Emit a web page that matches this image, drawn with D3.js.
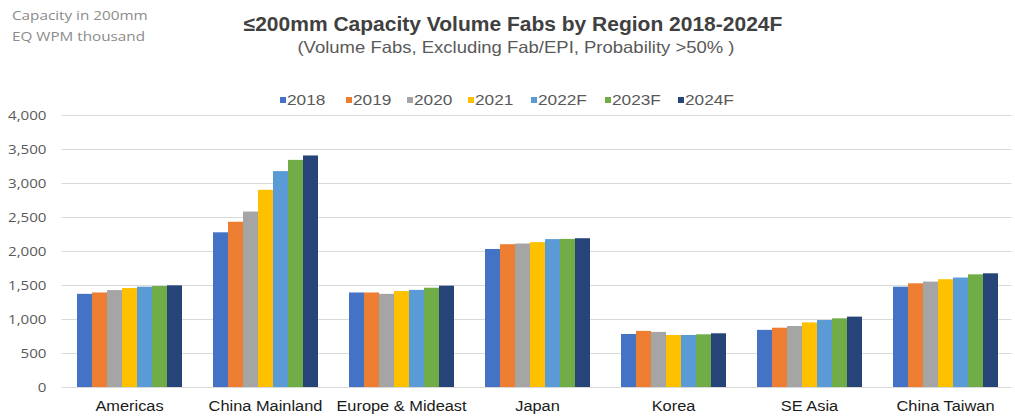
<!DOCTYPE html>
<html>
<head>
<meta charset="utf-8">
<script src="https://cdn.jsdelivr.net/npm/d3@7"></script>
<style>
  html, body { margin: 0; padding: 0; background: #fff; }
  svg { display: block; }
</style>
</head>
<body>
<svg id="chart" width="1015" height="416"></svg>
<script>
// Regions along the x axis
const regions = ["Americas", "China Mainland", "Europe & Mideast", "Japan", "Korea", "SE Asia", "China Taiwan"];
// Years (series)
const years = ["2018", "2019", "2020", "2021", "2022F", "2023F", "2024F"];
// Capacity per year, one value per region (200mm EQ WPM, thousand)
const v2018  = [1370, 2275, 1390, 2030,  780,  840, 1475];
const v2019  = [1390, 2430, 1390, 2100,  825,  872, 1525];
const v2020  = [1425, 2580, 1370, 2110,  810,  897, 1550];
const v2021  = [1455, 2900, 1412, 2130,  765,  950, 1585];
const v2022F = [1475, 3175, 1428, 2175,  765,  985, 1610];
const v2023F = [1485, 3340, 1460, 2178,  775, 1010, 1657];
const v2024F = [1495, 3405, 1490, 2188,  790, 1035, 1672];
const seriesValues = [v2018, v2019, v2020, v2021, v2022F, v2023F, v2024F];
// Y axis ticks
const yTicks = [0, 500, 1000, 1500, 2000, 2500, 3000, 3500, 4000];

const colors = ["#4472C4", "#ED7D31", "#A5A5A5", "#FFC000", "#5B9BD5", "#70AD47", "#264478"];

const svg = d3.select("#chart");

// Widen text horizontally by a factor, keeping its anchor
function widen(sel, k) {
  sel.each(function () {
    const w = this.getComputedTextLength();
    d3.select(this).attr("textLength", w * k).attr("lengthAdjust", "spacingAndGlyphs");
  });
}

const plot = { left: 61.5, right: 1013.5, top: 115, bottom: 387 };

const x0 = d3.scaleBand().domain(regions).range([plot.left, plot.right]).paddingInner(0.228).paddingOuter(0.114);
const x1 = d3.scaleBand().domain(years).range([0, x0.bandwidth()]).padding(0);
const y = d3.scaleLinear().domain([0, 4000]).range([plot.bottom, plot.top]);
const color = d3.scaleOrdinal().domain(years).range(colors);

// Gridlines and y tick labels
const yAxis = d3.axisLeft(y).tickValues(yTicks).tickFormat(d3.format(",")).tickSize(-(plot.right - plot.left - 2)).tickPadding(15);
const gy = svg.append("g").attr("transform", `translate(${plot.left},0)`).call(yAxis);
gy.select(".domain").remove();
gy.selectAll(".tick line").attr("stroke", "#d9d9d9").attr("stroke-width", 1);
gy.selectAll(".tick text")
  .attr("fill", "#595959")
  .style("font-family", "'Open Sans', sans-serif")
  .style("font-size", "13.5px")
  .call(widen, 1.12);

// Bars
const groups = svg.append("g").selectAll("g")
  .data(regions)
  .join("g")
  .attr("transform", d => `translate(${x0(d)},0)`);

groups.selectAll("rect")
  .data((r, ri) => years.map((yr, si) => ({ yr, v: seriesValues[si][ri] })))
  .join("rect")
  .attr("x", d => x1(d.yr))
  .attr("width", x1.bandwidth())
  .attr("y", d => y(d.v))
  .attr("height", d => y(0) - y(d.v))
  .attr("fill", d => color(d.yr));

// Category axis labels
const xAxis = d3.axisBottom(x0).tickSize(0).tickPadding(14);
const gx = svg.append("g").attr("transform", `translate(0,${plot.bottom})`).call(xAxis);
gx.select(".domain").remove();
gx.selectAll(".tick text")
  .attr("fill", "#1a1a1a")
  .style("font-family", "'Liberation Sans', Arial, sans-serif")
  .style("font-size", "14px")
  .call(widen, 1.17);

// Legend
const legendX = [280, 346, 407, 468, 531, 605, 678];
const legend = svg.append("g").selectAll("g")
  .data(years)
  .join("g")
  .attr("transform", (d, i) => `translate(${legendX[i]},100)`);
legend.append("rect").attr("x", 0).attr("y", -3).attr("width", 6).attr("height", 6).attr("fill", d => color(d));
legend.append("text")
  .attr("x", 7).attr("y", 0).attr("dy", "0.35em")
  .attr("fill", "#595959")
  .style("font-family", "'Liberation Sans', Arial, sans-serif")
  .style("font-size", "15px")
  .text(d => d)
  .call(widen, 1.15);

// Titles
svg.append("text")
  .attr("x", 513).attr("y", 31).attr("text-anchor", "middle")
  .attr("fill", "#404040")
  .style("font-family", "'Liberation Sans', Arial, sans-serif")
  .style("font-size", "20px").style("font-weight", "bold")
  .text("≤200mm Capacity Volume Fabs by Region 2018-2024F")
  .call(widen, 1.05);
svg.append("text")
  .attr("x", 516).attr("y", 53).attr("text-anchor", "middle")
  .attr("fill", "#595959")
  .style("font-family", "'Liberation Sans', Arial, sans-serif")
  .style("font-size", "16.5px")
  .text("(Volume Fabs, Excluding Fab/EPI, Probability >50% )")
  .call(widen, 1.12);

// Unit note
const unit = svg.append("g")
  .attr("fill", "#8c8c8c")
  .style("font-family", "'Open Sans', sans-serif")
  .style("font-size", "13.5px");
unit.append("text").attr("x", 12).attr("y", 20).text("Capacity in 200mm").call(widen, 1.13);
unit.append("text").attr("x", 12).attr("y", 41).text("EQ WPM thousand").call(widen, 1.13);
</script>
</body>
</html>
